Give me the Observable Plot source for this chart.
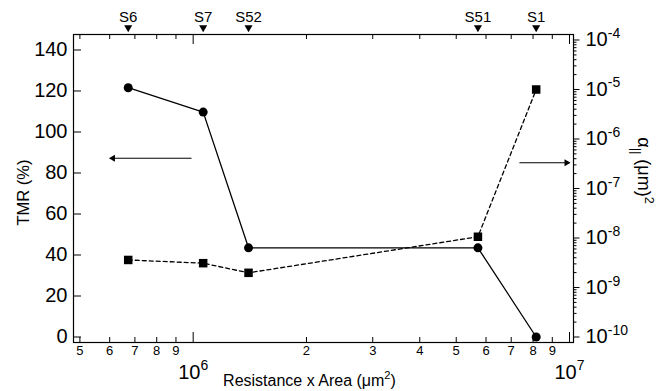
<!DOCTYPE html>
<html><head><meta charset="utf-8">
<script src="https://cdn.jsdelivr.net/npm/d3@7"></script>
<script src="https://cdn.jsdelivr.net/npm/@observablehq/plot@0.6"></script>
<style>
body{margin:0;background:#fff}
#wrap{position:relative;width:667px;height:391px;background:#fff}
#wrap svg{position:absolute;left:0;top:0}
</style></head><body><div id="wrap"></div>
<script>
// ---- data ----
const samples = ["S6", "S7", "S52", "S51", "S1"];
const resistanceArea = [6.72e5, 1.063e6, 1.403e6, 5.71e6, 8.155e6];
const tmr = [121.6, 109.7, 43.5, 43.5, 0];
const alpha = [3.6e-9, 3.1e-9, 1.98e-9, 1.06e-8, 1.0e-5];

const xMinorTicks = [5e5, 6e5, 7e5, 8e5, 9e5, 2e6, 3e6, 4e6, 5e6, 6e6, 7e6, 8e6, 9e6];
const xMinorLabels = ["5", "6", "7", "8", "9", "2", "3", "4", "5", "6", "7", "8", "9"];
const xMajorTicks = [1e6, 1e7];
const xMajorLabels = ["10^{6}", "10^{7}"];
const yTicks = [0, 20, 40, 60, 80, 100, 120, 140];
const alphaMajorTicks = [1e-10, 1e-9, 1e-8, 1e-7, 1e-6, 1e-5, 1e-4];
const alphaMajorLabels = ["10^{-10}", "10^{-9}", "10^{-8}", "10^{-7}", "10^{-6}", "10^{-5}", "10^{-4}"];
const alphaMantissas = [2, 3, 4, 5, 6, 7, 8, 9];

// indicator arrows (TMR units on y)
const arrowTail = [9.9e5, 7.36e6];
const arrowTip = [6.12e5, 9.82e6];
const arrowLevel = [87.2, 85.0];
const arrowRotate = [-90, 90];

const xTitle = "Resistance x Area (μm^{2})";
const yTitle = "TMR (%)";
const rightTitle = "α_{||} (μm)^{2}";

// ---- layout ----
const W = 667, H = 391, mL = 73, mR = 94, mT = 34, mB = 49;
const plotW = W - mL - mR, plotH = H - mT - mB;
const xDomain = [4.808e5, 1.0247e7];
const yDomain = [-2.68, 147.56];
const alphaDomain = [Math.pow(10, -10.111), Math.pow(10, -3.889)];
const dims = {width: W, height: H, marginLeft: mL, marginRight: mR, marginTop: mT, marginBottom: mB};
const fontFamily = "'Liberation Sans', Arial, Helvetica, sans-serif";
const style = {fontFamily, fontSize: "12px", color: "#000", background: "transparent", overflow: "visible"};

const data = samples.map((s, i) => ({sample: s, ra: resistanceArea[i], tmr: tmr[i], alpha: alpha[i]}));
const arrows = arrowTail.map((d, i) => ({tail: d, tip: arrowTip[i], level: arrowLevel[i], rot: arrowRotate[i]}));
const alphaMinorTicks = alphaMajorTicks.slice(0, -1).flatMap(d => alphaMantissas.map(m => m * d));
const xMinor = xMinorTicks.map((v, i) => ({v, label: xMinorLabels[i]}));
const xMajor = xMajorTicks.map((v, i) => ({v, label: xMajorLabels[i]}));
const aMajor = alphaMajorTicks.map((v, i) => ({v, label: alphaMajorLabels[i]}));

const p1 = Plot.plot({
  ...dims, style,
  x: {type: "log", domain: xDomain, axis: null},
  y: {domain: yDomain, axis: null},
  marks: [
    Plot.frame({stroke: "#000", strokeWidth: 1.2}),
    // bottom ticks (inward)
    Plot.tickX(xMinorTicks, {x: d => d, insetTop: plotH - 5, stroke: "#000"}),
    Plot.tickX(xMajorTicks, {x: d => d, insetTop: plotH - 10, stroke: "#000"}),
    // top ticks (inward)
    Plot.tickX(xMinorTicks, {x: d => d, insetBottom: plotH - 5, stroke: "#000"}),
    Plot.tickX(xMajorTicks, {x: d => d, insetBottom: plotH - 10, stroke: "#000"}),
    // left ticks (inward)
    Plot.tickY(yTicks, {y: d => d, insetRight: plotW - 8, stroke: "#000"}),
    // tick labels
    Plot.text(xMinor, {x: "v", text: "label", frameAnchor: "bottom", lineAnchor: "top", dy: 3, fontSize: 13}),
    Plot.text(xMajor, {x: "v", text: "label", frameAnchor: "bottom", lineAnchor: "top", dy: 22, fontSize: 20}),
    Plot.text(yTicks, {y: d => d, text: d => String(d), frameAnchor: "left", textAnchor: "end", dx: -6, fontSize: 20}),
    // titles
    Plot.text([xTitle], {frameAnchor: "bottom", textAnchor: "middle", dx: -14, dy: 43, fontSize: 16, text: d => d}),
    Plot.text([yTitle], {frameAnchor: "left", textAnchor: "middle", dx: -50, dy: 4, rotate: -90, fontSize: 16.5, text: d => d}),
    // sample markers on top
    Plot.dot(data, {x: "ra", frameAnchor: "top", symbol: "triangle", rotate: 180, r: 3, fill: "#000", dy: -7}),
    Plot.text(data, {x: "ra", text: "sample", frameAnchor: "top", dy: -23, fontSize: 15}),
    // arrows
    Plot.link(arrows, {x1: "tail", x2: "tip", y1: "level", y2: "level", stroke: "#000", strokeWidth: 1}),
    Plot.dot(arrows, {x: "tip", y: "level", symbol: "triangle", rotate: "rot", r: 2.6, fill: "#000"}),
    // TMR series
    Plot.line(data, {x: "ra", y: "tmr", stroke: "#000", strokeWidth: 1.3}),
    Plot.dot(data, {x: "ra", y: "tmr", r: 4.5, fill: "#000"})
  ]
});

const p2 = Plot.plot({
  ...dims, style,
  x: {type: "log", domain: xDomain, axis: null},
  y: {type: "log", domain: alphaDomain, axis: null},
  marks: [
    // right ticks (outward)
    Plot.tickY(alphaMinorTicks, {y: d => d, insetLeft: plotW, insetRight: -3.5, stroke: "#000"}),
    Plot.tickY(alphaMajorTicks, {y: d => d, insetLeft: plotW, insetRight: -6.5, stroke: "#000"}),
    Plot.text(aMajor, {y: "v", text: "label", frameAnchor: "right", textAnchor: "start", dx: 12, fontSize: 20}),
    Plot.line(data, {x: "ra", y: "alpha", stroke: "#000", strokeWidth: 1.3, strokeDasharray: "4,3"}),
    Plot.dot(data, {x: "ra", y: "alpha", symbol: "square", r: 4.8, fill: "#000"}),
    Plot.text([rightTitle], {frameAnchor: "right", textAnchor: "middle", dx: 70, dy: -18, rotate: 90, fontSize: 18, text: d => d})
  ]
});

const wrap = document.getElementById("wrap");
wrap.appendChild(p1);
wrap.appendChild(p2);

function richify(svg) {
  svg.querySelectorAll("text").forEach(el => {
    const s = el.textContent;
    if (!/[\^_]\{/.test(s)) return;
    const fs = parseFloat(getComputedStyle(el).fontSize) || 12;
    el.textContent = "";
    const re = /([\^_])\{([^}]*)\}/g;
    let last = 0, m, shift = 0;
    const add = (txt, dyPx, small) => {
      const t = document.createElementNS("http://www.w3.org/2000/svg", "tspan");
      if (dyPx) t.setAttribute("dy", dyPx);
      if (small) t.setAttribute("font-size", fs * 0.7);
      t.textContent = txt;
      el.appendChild(t);
    };
    while ((m = re.exec(s))) {
      if (m.index > last) { add(s.slice(last, m.index), -shift, false); shift = 0; }
      const d = m[1] === "^" ? -0.42 * fs : 0.3 * fs;
      add(m[2], d - shift, true);
      shift = d;
      last = re.lastIndex;
    }
    if (last < s.length) add(s.slice(last), -shift, false);
  });
}
richify(p1);
richify(p2);
</script>
</body></html>
